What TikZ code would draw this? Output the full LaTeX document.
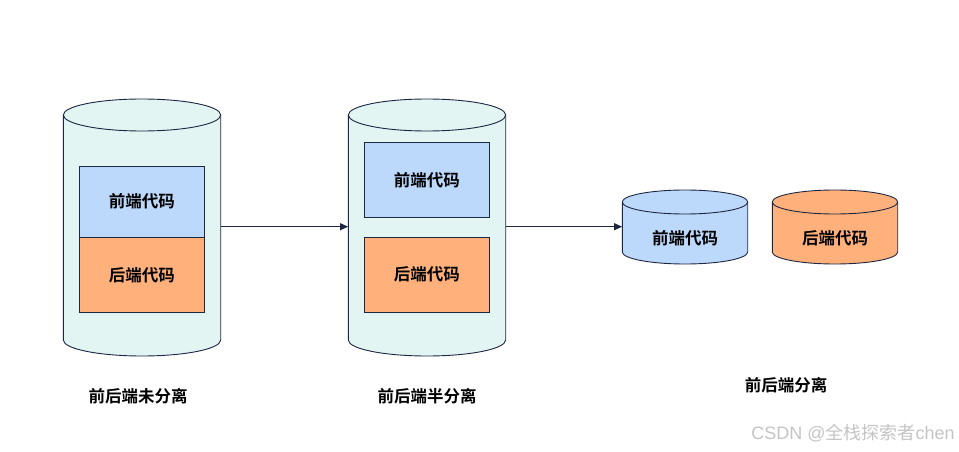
\documentclass[tikz,border=0pt]{standalone}
\usepackage{fontspec}
\setmainfont{Liberation Sans}
\newfontfamily\cjkb[BoldFont={Noto Sans CJK SC Bold}]{Noto Sans CJK SC}
\newfontfamily\cjkr{Noto Sans CJK SC}
\usetikzlibrary{arrows.meta}
\definecolor{edgec}{HTML}{1E2742}
\definecolor{cyanf}{HTML}{E2F5F3}
\definecolor{bluef}{HTML}{BCD8FB}
\definecolor{orangef}{HTML}{FFB07B}
\definecolor{wmark}{HTML}{C4C4C4}
\newcommand{\mycyl}[6]{% cx, rx, ytopc, ybotc, ry, fill
  \filldraw[cylline, fill=#6] (#1-#2,#3) -- (#1-#2,#4) arc[start angle=180, end angle=360, x radius=#2, y radius=#5] -- (#1+#2,#3) arc[start angle=0, end angle=180, x radius=#2, y radius=#5] -- cycle;
  \draw[cylline] (#1-#2,#3) arc[start angle=180, end angle=360, x radius=#2, y radius=#5];
}
\begin{document}
\begin{tikzpicture}[x=1pt,y=1pt,
  cylline/.style={draw=edgec, line width=0.9pt},
  boxb/.style={draw=edgec, line width=0.9pt, fill=bluef, minimum width=125pt, inner sep=0pt, font=\cjkb\bfseries\fontsize{16.5}{16.5}\selectfont},
  boxo/.style={draw=edgec, line width=0.9pt, fill=orangef, minimum width=125pt, inner sep=0pt, font=\cjkb\bfseries\fontsize{16.5}{16.5}\selectfont},
  ghost/.style={inner sep=0pt, draw=none},
  lbl/.style={font=\cjkb\bfseries\fontsize{16.5}{16.5}\selectfont, inner sep=0pt},
  conn/.style={draw=edgec, line width=0.9pt, -{Triangle[length=8pt,width=7pt]}}]
\useasboundingbox (0,0) rectangle (959,451);
% cylinder 1
\mycyl{142}{78.7}{336}{111}{16}{cyanf}
\node[ghost, minimum width=157.4pt, minimum height=200pt] (db1) at (142,224.3) {};
\node[boxb, minimum height=70.7pt] (fe1) at (141.8,249.35) {前端代码};
\node[boxo, minimum height=75pt, anchor=north] (be1) at (fe1.south) {后端代码};
% cylinder 2
\mycyl{427}{78.7}{336}{111}{16}{cyanf}
\node[ghost, minimum width=157.4pt, minimum height=200pt] (db2) at (427,224.3) {};
\node[boxb, minimum height=75pt] (fe2) at (426.8,271.2) {前端代码};
\node[boxo, minimum height=75pt] (be2) at (426.8,176.5) {后端代码};
% small cylinders
\mycyl{685}{62.7}{249}{199}{12}{bluef}
\node[ghost, minimum width=125.4pt, minimum height=40pt] (db3) at (685,224.3) {};
\node[lbl] (fe3) at (685,213) {前端代码};
\mycyl{835}{62.7}{249}{199}{12}{orangef}
\node[lbl] (be3) at (835,213) {后端代码};
% arrows
\draw[conn] (db1.east) -- (db2.west);
\draw[conn] (db2.east) -- (db3.west);
% labels
\node[lbl] (l1) at (138,54.5) {前后端未分离};
\node[lbl] (l2) at (427,54.5) {前后端半分离};
\node[lbl] (l3) at (786,66) {前后端分离};
\node[inner sep=0pt, text=wmark, font=\fontsize{18}{18}\selectfont] (wm) at (853,18) {CSDN @{\cjkr 全栈探索者}chen};
\end{tikzpicture}
\end{document}
